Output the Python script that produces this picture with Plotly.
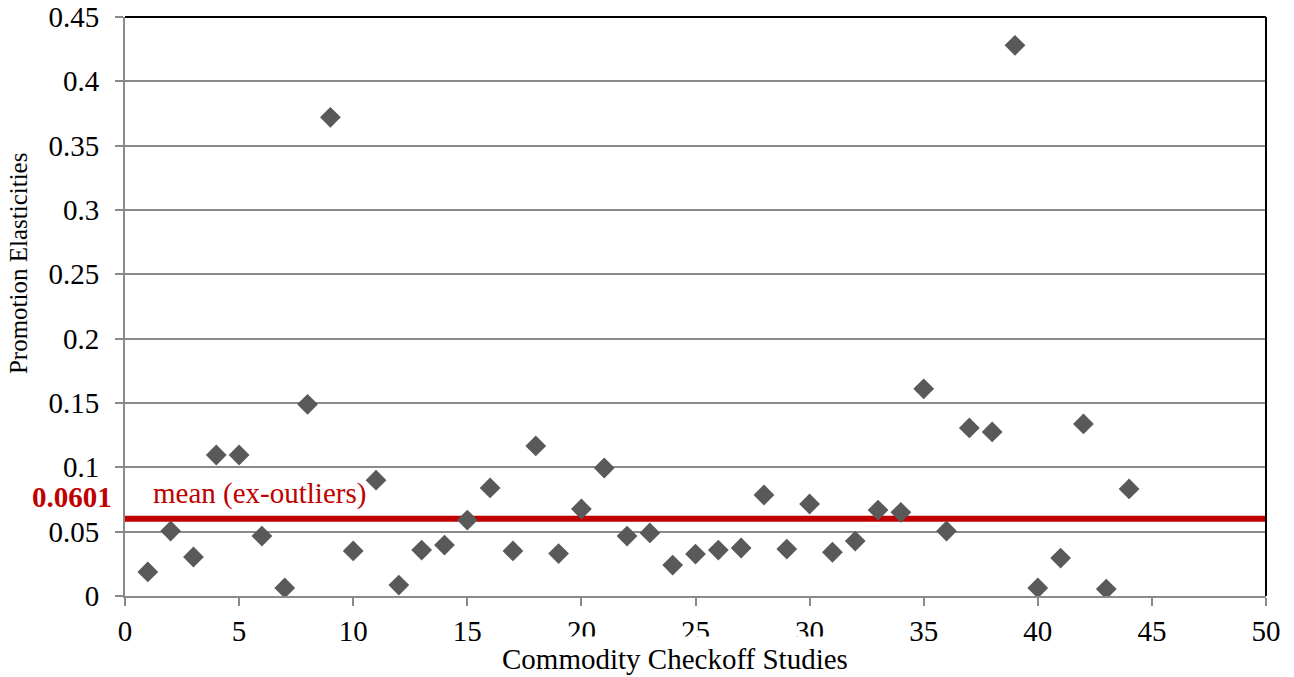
import plotly.graph_objects as go

studies = list(range(1, 45))
elasticities = [0.0187, 0.0505, 0.0303, 0.1096, 0.1096, 0.0466, 0.0062, 0.149, 0.372, 0.035,
                0.090, 0.0085, 0.0357, 0.0396, 0.059, 0.084, 0.035, 0.1166, 0.033, 0.0676,
                0.0995, 0.0466, 0.049, 0.024, 0.0326, 0.0357, 0.0373, 0.0785, 0.0365, 0.0715,
                0.034, 0.0427, 0.0668, 0.065, 0.161, 0.0505, 0.1306, 0.1275, 0.428, 0.0062,
                0.0295, 0.1337, 0.0054, 0.0832]
mean_value = 0.0601
mean_label = "0.0601"
mean_text = "mean (ex-outliers)"
y_ticks = [0, 0.05, 0.1, 0.15, 0.2, 0.25, 0.3, 0.35, 0.4, 0.45]
y_ticktext = ["0", "0.05", "0.1", "0.15", "0.2", "0.25", "0.3", "0.35", "0.4", "0.45"]
x_ticks = [0, 5, 10, 15, 20, 25, 30, 35, 40, 45, 50]

FONT = "Liberation Serif, Times New Roman, serif"
RED = "#C00000"
GRID = "#8A8A8A"
FS = 29

fig = go.Figure()
fig.add_trace(go.Scatter(
    x=[0, 50], y=[mean_value, mean_value], mode="lines",
    line=dict(color=RED, width=6), hoverinfo="skip", showlegend=False))
fig.add_trace(go.Scatter(
    x=studies, y=elasticities, mode="markers",
    marker=dict(symbol="diamond", size=16, color="#595959"),
    showlegend=False))

fig.update_layout(
    width=1294, height=677,
    margin=dict(l=125, r=28, t=17, b=81),
    paper_bgcolor="white", plot_bgcolor="white",
    font=dict(family=FONT, color="black", size=FS),
    xaxis=dict(range=[0, 50], tickvals=x_ticks, showgrid=False, zeroline=False,
               showline=True, linecolor=GRID, linewidth=2, automargin=False,
               ticks="outside", ticklen=8, tickcolor=GRID, tickwidth=1.5,
               tickfont=dict(size=FS, family=FONT)),
    yaxis=dict(range=[0, 0.45], tickvals=y_ticks, ticktext=y_ticktext,
               showgrid=True, gridcolor=GRID, gridwidth=1.5, zeroline=False,
               showline=True, linecolor=GRID, linewidth=2, automargin=False,
               ticks="outside", ticklen=8, tickcolor=GRID, tickwidth=1.5,
               ticklabelstandoff=10, ticklabeloverflow="allow",
               tickfont=dict(size=FS, family=FONT)),
    shapes=[
        dict(type="line", xref="paper", yref="paper", x0=0, x1=1, y0=1, y1=1,
             line=dict(color="black", width=2)),
        dict(type="line", xref="paper", yref="paper", x0=1, x1=1, y0=0, y1=1,
             line=dict(color="black", width=2)),
    ],
    annotations=[
        dict(text="Commodity Checkoff Studies", xref="paper", yref="paper",
             x=0.482, y=0, yshift=-63, xanchor="center", yanchor="middle",
             showarrow=False, bgcolor="white", borderpad=6,
             font=dict(size=FS, family=FONT, color="black")),
        dict(text="Promotion Elasticities", xref="paper", yref="paper",
             x=0, xshift=-107, y=0.575, xanchor="center", yanchor="middle",
             textangle=-90, showarrow=False,
             font=dict(size=25, family=FONT, color="black")),
        dict(text="<b>" + mean_label + "</b>", xref="paper", yref="y",
             x=0, xshift=-11, y=mean_value, yshift=22, xanchor="right", yanchor="middle",
             showarrow=False, font=dict(size=FS, family=FONT, color=RED)),
        dict(text=mean_text, xref="x", yref="y",
             x=1.14, y=mean_value, yshift=25, xanchor="left", yanchor="middle",
             showarrow=False, font=dict(size=FS, family=FONT, color=RED)),
    ],
)

fig.write_html("out.html", config={"displayModeBar": False},
               post_script="document.body.style.margin='0';document.body.style.overflow='hidden';")
